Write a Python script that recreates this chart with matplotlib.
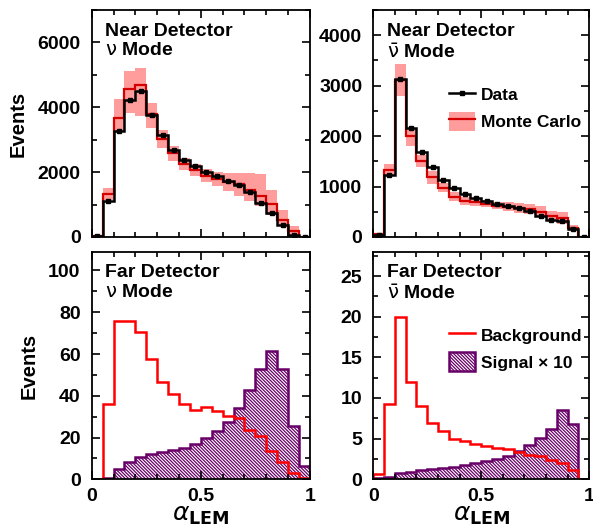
import numpy as np
import matplotlib
matplotlib.use('Agg')
import matplotlib.pyplot as plt
from matplotlib.lines import Line2D
from matplotlib.patches import Patch
from matplotlib.ticker import MultipleLocator

# 20 bins in alpha_LEM
edges = np.linspace(0, 1, 21)

# Near Detector, nu mode
nd_nu_data = [30, 1103, 3268, 4216, 4505, 3753, 3134, 2670, 2361, 2186,
              2010, 1876, 1742, 1598, 1392, 1052, 742, 381, 72, 10]
nd_nu_mc = [20, 1330, 3680, 4577, 4690, 3784, 3010, 2598, 2258, 2062,
            1876, 1773, 1691, 1619, 1464, 1278, 1031, 536, 196, 5]
nd_nu_mc_lo = [0, 1155, 3250, 3835, 3732, 3371, 2753, 2340, 2062, 1876,
               1691, 1567, 1412, 1258, 1103, 948, 691, 330, 72, 0]
nd_nu_mc_hi = [60, 1515, 4247, 5124, 5196, 4124, 3289, 2804, 2443, 2237,
               2082, 2000, 1979, 1979, 1979, 1928, 1464, 845, 330, 20]

# Near Detector, nubar mode
nd_nub_data = [40, 1220, 3133, 2153, 1687, 1380, 1133, 980, 853, 780,
               720, 653, 613, 567, 513, 413, 333, 313, 167, 0]
nd_nub_mc = [50, 1333, 3113, 2000, 1513, 1180, 980, 800, 713, 687,
             653, 620, 600, 567, 553, 500, 413, 367, 180, 0]
nd_nub_mc_lo = [0, 1233, 2787, 1800, 1380, 1047, 887, 713, 633, 613,
                587, 547, 520, 480, 453, 387, 313, 267, 120, 0]
nd_nub_mc_hi = [67, 1447, 3433, 2133, 1633, 1300, 1080, 900, 800, 767,
                733, 700, 700, 680, 653, 613, 513, 500, 233, 0]

# Far Detector, nu mode
fd_nu_bkg = [0, 36.1, 75.9, 75.9, 70.3, 57.8, 46.7, 40.9, 36.1, 33.4,
             34.5, 32.9, 30.2, 29.4, 23.8, 20.5, 13.6, 8.2, 2.9, 0.5]
fd_nu_sig = [0, 0.5, 4.8, 8.3, 10.6, 11.9, 13.0, 13.8, 15.2, 17.0,
             19.7, 23.3, 27.6, 33.9, 42.7, 53.0, 61.5, 53.0, 25.4, 6.4]

# Far Detector, nubar mode
fd_nub_bkg = [0.6, 9.2, 20.0, 12.0, 9.0, 6.9, 5.9, 5.0, 4.7, 4.3,
              4.1, 3.9, 3.7, 3.4, 3.0, 2.85, 2.4, 1.95, 1.1, 0]
fd_nub_sig = [0.2, 0.3, 0.8, 0.9, 1.1, 1.25, 1.4, 1.55, 1.75, 1.95,
              2.2, 2.55, 2.85, 3.45, 4.25, 5.1, 6.2, 8.5, 6.8, 0]

PINK = '#ff9c9c'
MC_RED = '#d40000'
BKG_RED = '#ff0000'
PURPLE = '#680068'
HATCH = '\\' * 10

plt.rcParams['font.family'] = ['Liberation Sans', 'DejaVu Sans']
plt.rcParams['hatch.linewidth'] = 0.9
plt.rcParams['hatch.color'] = PURPLE


def style_axes(ax, ymax, ymajor, yminor, xlabels):
    ax.set_xlim(0, 1)
    ax.set_ylim(0, ymax)
    ax.xaxis.set_major_locator(MultipleLocator(0.5))
    ax.xaxis.set_minor_locator(MultipleLocator(0.1))
    ax.yaxis.set_major_locator(MultipleLocator(ymajor))
    ax.yaxis.set_minor_locator(MultipleLocator(yminor))
    ax.tick_params(which='both', direction='in', top=True, right=True,
                   width=1.2, labelsize=14)
    ax.tick_params(which='major', length=6)
    ax.tick_params(which='minor', length=3.5)
    ax.tick_params(axis='y', pad=8)
    ax.tick_params(axis='x', pad=6)
    ax.xaxis.set_major_formatter(plt.FuncFormatter(lambda v, p: '%g' % v))
    if not xlabels:
        ax.tick_params(axis='x', labelbottom=False)
    for lab in ax.get_xticklabels() + ax.get_yticklabels():
        lab.set_fontweight('bold')
    for s in ax.spines.values():
        s.set_linewidth(1.3)


def panel_text(ax, line1, line2, y1, y2):
    ax.text(0.062, y1, line1, transform=ax.transAxes, fontsize=14,
            fontweight='bold', va='baseline', ha='left')
    ax.text(0.062, y2, line2, transform=ax.transAxes, fontsize=14,
            fontweight='bold', va='baseline', ha='left')


def draw_near(ax, data, mc, lo, hi):
    centers = 0.5 * (edges[1:] + edges[:-1])
    ax.stairs(hi, edges, baseline=lo, fill=True, color=PINK, lw=0)
    ax.stairs(mc, edges, color=MC_RED, lw=1.6)
    ax.stairs(data, edges, color='black', lw=1.8)
    ax.plot(centers, data, 's', color='black', ms=3.5)


def draw_far(ax, bkg, sig):
    ax.stairs(sig, edges, fill=True, facecolor='white', edgecolor=PURPLE,
              hatch=HATCH, lw=0)
    ax.stairs(sig, edges, color=PURPLE, lw=1.8)
    ax.stairs(bkg, edges, color=BKG_RED, lw=1.8)


fig = plt.figure(figsize=(5.93, 5.29), dpi=100)
ax_tl = fig.add_axes([0.1546, 0.552, 0.3681, 0.4291])
ax_tr = fig.add_axes([0.6295, 0.552, 0.3642, 0.4291])
ax_bl = fig.add_axes([0.1546, 0.094, 0.3681, 0.4302])
ax_br = fig.add_axes([0.6295, 0.094, 0.3642, 0.4302])

draw_near(ax_tl, nd_nu_data, nd_nu_mc, nd_nu_mc_lo, nd_nu_mc_hi)
style_axes(ax_tl, 7000, 2000, 1000, False)
panel_text(ax_tl, 'Near Detector', r'$\mathrm{\nu}$ Mode', 0.885, 0.80)
ax_tl.set_ylabel('Events', fontsize=14.5, fontweight='bold', labelpad=7)

draw_near(ax_tr, nd_nub_data, nd_nub_mc, nd_nub_mc_lo, nd_nub_mc_hi)
style_axes(ax_tr, 4500, 1000, 500, False)
panel_text(ax_tr, 'Near Detector', r'$\bar{\mathrm{\nu}}$ Mode', 0.885, 0.79)
h_data = Line2D([], [], color='black', lw=1.8, marker='s', ms=3.5)
h_mc = (Patch(facecolor=PINK, edgecolor='none'), Line2D([], [], color=MC_RED, lw=1.6))
leg = ax_tr.legend([h_data, h_mc], ['Data', 'Monte Carlo'], loc='upper left',
                   bbox_to_anchor=(0.35, 0.67), frameon=False, fontsize=12.5,
                   borderpad=0, borderaxespad=0, handlelength=1.5, handleheight=1.3,
                   handletextpad=0.35, labelspacing=0.45)
for t in leg.get_texts():
    t.set_fontweight('bold')

draw_far(ax_bl, fd_nu_bkg, fd_nu_sig)
style_axes(ax_bl, 109, 20, 10, True)
panel_text(ax_bl, 'Far Detector', r'$\mathrm{\nu}$ Mode', 0.89, 0.80)
ax_bl.set_ylabel('Events', fontsize=14.5, fontweight='bold', labelpad=7)
ax_bl.set_xlabel(r'$\alpha_{\mathbf{LEM}}$', fontsize=18, labelpad=-1)

draw_far(ax_br, fd_nub_bkg, fd_nub_sig)
style_axes(ax_br, 28, 5, 2.5, True)
panel_text(ax_br, 'Far Detector', r'$\bar{\mathrm{\nu}}$ Mode', 0.89, 0.79)
ax_br.set_xlabel(r'$\alpha_{\mathbf{LEM}}$', fontsize=18, labelpad=-1)
h_bkg = Line2D([], [], color=BKG_RED, lw=1.8)
h_sig = Patch(facecolor='white', edgecolor=PURPLE, hatch=HATCH, lw=1.8)
leg = ax_br.legend([h_bkg, h_sig], ['Background', 'Signal \u00d7 10'], loc='upper left',
                   bbox_to_anchor=(0.35, 0.675), frameon=False, fontsize=12.5,
                   borderpad=0, borderaxespad=0, handlelength=1.5, handleheight=1.3,
                   handletextpad=0.35, labelspacing=0.45)
for t in leg.get_texts():
    t.set_fontweight('bold')

fig.savefig('out.png', dpi=100)
